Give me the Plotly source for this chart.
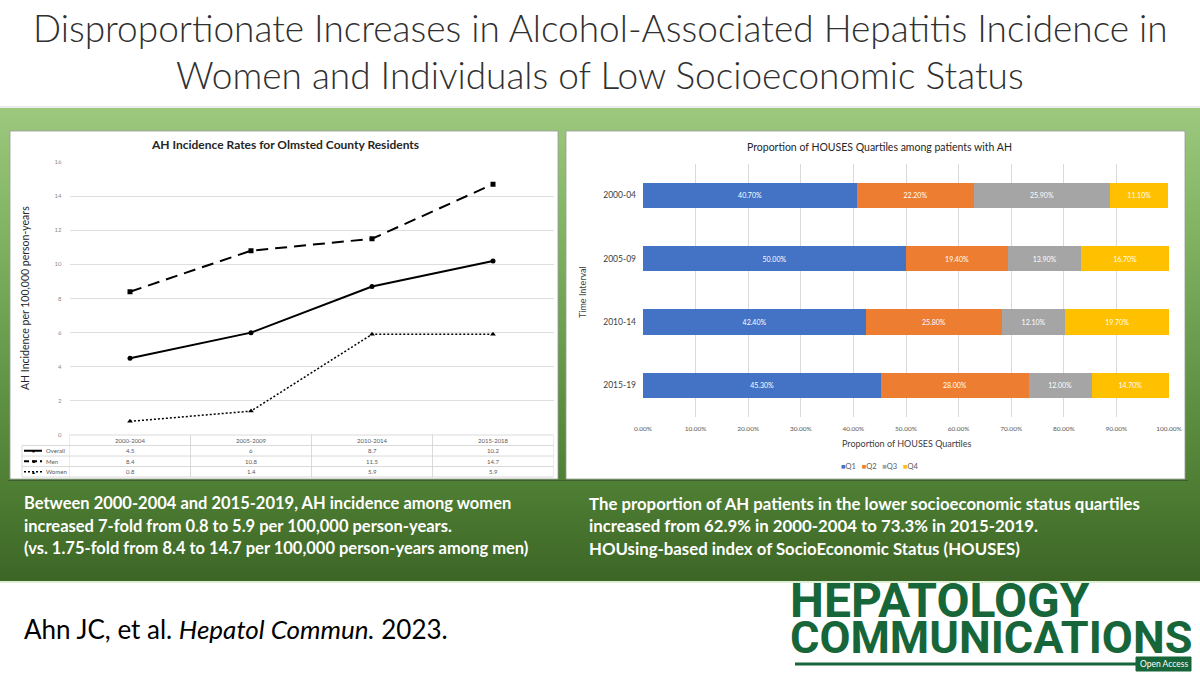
import base64
import plotly.graph_objects as go

W, H = 1200, 675


def fx(x):
    return x / W


def fy(y):
    return 1 - y / H


# ---------------- data ----------------
line_periods = ["2000-2004", "2005-2009", "2010-2014", "2015-2018"]
overall_rate = [4.5, 6, 8.7, 10.2]
men_rate = [8.4, 10.8, 11.5, 14.7]
women_rate = [0.8, 1.4, 5.9, 5.9]
y_ticks = [0, 2, 4, 6, 8, 10, 12, 14, 16]

intervals = ["2000-04", "2005-09", "2010-14", "2015-19"]
q1 = [0.407, 0.500, 0.424, 0.453]
q2 = [0.222, 0.194, 0.258, 0.280]
q3 = [0.259, 0.139, 0.121, 0.120]
q4 = [0.111, 0.167, 0.197, 0.147]
quartile_names = ["Q1", "Q2", "Q3", "Q4"]
quartile_colors = ["#4472C4", "#ED7D31", "#A5A5A5", "#FFC000"]

title_lines = [
    "Disproportionate Increases in Alcohol-Associated Hepatitis Incidence in",
    "Women and Individuals of Low Socioeconomic Status",
]
left_text = [
    "Between 2000-2004 and 2015-2019, AH incidence among women",
    "increased 7-fold from 0.8 to 5.9 per 100,000 person-years.",
    "(vs. 1.75-fold from 8.4 to 14.7 per 100,000 person-years among men)",
]
right_text = [
    "The proportion of AH patients in the lower socioeconomic status quartiles",
    "increased from 62.9% in 2000-2004 to 73.3% in 2015-2019.",
    "HOUsing-based index of SocioEconomic Status (HOUSES)",
]

FONT = "Lato, 'Open Sans', sans-serif"

fig = go.Figure()

# ---------------- left line chart ----------------
fig.add_trace(go.Scatter(
    x=line_periods, y=overall_rate, mode="lines+markers", name="Overall",
    line=dict(color="black", width=2),
    marker=dict(symbol="circle", size=5, color="black"),
    xaxis="x", yaxis="y", showlegend=False))
fig.add_trace(go.Scatter(
    x=line_periods, y=men_rate, mode="lines+markers", name="Men",
    line=dict(color="black", width=2, dash="12px,7px"),
    marker=dict(symbol="square", size=5, color="black"),
    xaxis="x", yaxis="y", showlegend=False))
fig.add_trace(go.Scatter(
    x=line_periods, y=women_rate, mode="lines+markers", name="Women",
    line=dict(color="black", width=1.5, dash="2px,2px"),
    marker=dict(symbol="triangle-up", size=5, color="black"),
    xaxis="x", yaxis="y", showlegend=False))

# ---------------- right stacked bar chart ----------------
for name, vals, col in zip(quartile_names, [q1, q2, q3, q4], quartile_colors):
    fig.add_trace(go.Bar(
        x=vals, y=intervals, orientation="h", name=name,
        marker=dict(color=col, line=dict(width=0)),
        texttemplate="%{x:.2%}", textposition="inside",
        insidetextanchor="middle",
        textfont=dict(color="white", size=7, family=FONT),
        xaxis="x2", yaxis="y2", showlegend=False))

# ---------------- background: gradient band as svg ----------------
svg = (
    '<svg xmlns="http://www.w3.org/2000/svg" width="10" height="100" preserveAspectRatio="none">'
    '<defs><linearGradient id="g" x1="0" y1="0" x2="0" y2="1">'
    '<stop offset="0" stop-color="#9CC87E"/>'
    '<stop offset="0.25" stop-color="#82B463"/>'
    '<stop offset="0.55" stop-color="#64974A"/>'
    '<stop offset="0.8" stop-color="#4E7E33"/>'
    '<stop offset="1" stop-color="#3C6526"/>'
    '</linearGradient></defs>'
    '<rect x="0" y="0" width="10" height="100" fill="url(#g)"/></svg>'
)
svg_uri = "data:image/svg+xml;base64," + base64.b64encode(svg.encode()).decode()

images = [dict(source=svg_uri, xref="paper", yref="paper", x=0, y=fy(108),
               sizex=1, sizey=(582 - 108) / H, xanchor="left", yanchor="top",
               sizing="stretch", layer="below")]

shapes = []
shapes.append(dict(type="line", xref="paper", yref="paper", x0=0, x1=1, y0=fy(107), y1=fy(107),
                   line=dict(color="#E6E6E6", width=1.5), layer="below"))
shapes.append(dict(type="line", xref="paper", yref="paper", x0=0, x1=1, y0=fy(582), y1=fy(582),
                   line=dict(color="#DCEFD2", width=2), layer="below"))
for (x0, y0, x1, y1) in [(10, 131, 558, 479), (566, 131, 1185, 479)]:
    shapes.append(dict(type="rect", xref="paper", yref="paper",
                       x0=fx(x0), x1=fx(x1), y0=fy(y1), y1=fy(y0),
                       fillcolor="white", line=dict(color="#9a9a9a", width=0.8), layer="below"))
shapes.append(dict(type="line", xref="paper", yref="paper", x0=fx(8), x1=fx(1188), y0=fy(480.5), y1=fy(480.5),
                   line=dict(color="#3E5E2E", width=1.2), layer="below"))

# data table under the line chart
row_y = [445.5, 456, 466.5, 477]
tbl_left = 22
for yy in [435] + row_y:
    x_start = fx(69.5) if yy == 435 else fx(tbl_left)
    shapes.append(dict(type="line", xref="paper", yref="paper", x0=x_start, x1=fx(553.5),
                       y0=fy(yy), y1=fy(yy), line=dict(color="#D0D0D0", width=0.8)))
shapes.append(dict(type="line", xref="paper", yref="paper", x0=fx(tbl_left), x1=fx(tbl_left),
                   y0=fy(477), y1=fy(445.5), line=dict(color="#D0D0D0", width=0.8)))
for k in range(len(line_periods) + 1):
    shapes.append(dict(type="line", xref="x", yref="paper", x0=k - 0.5, x1=k - 0.5,
                       y0=fy(477), y1=fy(435), line=dict(color="#D0D0D0", width=0.8)))

annotations = []


def ann(x, y, text, font, xanchor="center", yanchor="middle", xref="paper", **kw):
    annotations.append(dict(x=x, y=y, xref=xref, yref="paper", text=text, showarrow=False,
                            font=font, xanchor=xanchor, yanchor=yanchor, **kw))


small = dict(family=FONT, size=6, color="#595959")
for i, p in enumerate(line_periods):
    ann(i, fy(440), p, small, xref="x")
row_specs = [("Overall", overall_rate, "solid", 2, "●"),
             ("Men", men_rate, "5px,3px", 2, "■"),
             ("Women", women_rate, "2px,2px", 1.3, "▲")]
for r, (lab, vals, dash, lw, glyph) in enumerate(row_specs):
    yc = (row_y[r] + row_y[r + 1]) / 2
    for i, v in enumerate(vals):
        ann(i, fy(yc), f"{v:g}", small, xref="x")
    shapes.append(dict(type="line", xref="paper", yref="paper", x0=fx(24), x1=fx(42),
                       y0=fy(yc), y1=fy(yc), line=dict(color="black", width=lw, dash=dash)))
    ann(fx(33), fy(yc), glyph, dict(size=5, color="black"))
    ann(fx(44), fy(yc), lab, small, xanchor="left")

# chart titles
ann(fx(285), fy(145), "<b>AH Incidence Rates for Olmsted County Residents</b>",
    dict(family=FONT, size=12, color="#262626"))
ann(fx(25), fy(298), "AH Incidence per 100,000 person-years",
    dict(family=FONT, size=10.5, color="#262626"), textangle=-90)
ann(fx(880), fy(147), "Proportion of HOUSES Quartiles among patients with AH",
    dict(family=FONT, size=10.5, color="#262626"))
ann(fx(582), fy(292), "Time Interval", dict(family=FONT, size=9, color="#404040"), textangle=-90)
ann(fx(906), fy(443), "Proportion of HOUSES Quartiles", dict(family=FONT, size=9, color="#404040"))
legend_txt = "   ".join(f'<span style="color:{c}">■</span>{n}' for n, c in zip(quartile_names, quartile_colors))
ann(fx(880), fy(466), legend_txt, dict(family=FONT, size=7.5, color="#595959"))

# main title
for i, t in enumerate(title_lines):
    ann(0.5, fy(28 + 46 * i), t, dict(family=FONT, size=37, color="#303030", weight=300))

# summary texts
for i, t in enumerate(left_text):
    ann(fx(22), fy(503 + 22.5 * i), f"<b>{t}</b>", dict(family=FONT, size=16.5, color="white"),
        xanchor="left")
for i, t in enumerate(right_text):
    ann(fx(587), fy(503 + 22.5 * i), f"<b>{t}</b>", dict(family=FONT, size=16.8, color="white"),
        xanchor="left")

# citation
ann(fx(22), fy(629), "Ahn JC, et al. <i>Hepatol Commun.</i> 2023.",
    dict(family=FONT, size=26, color="black"), xanchor="left")

# journal logo
LOGO = "#16663A"
LOGO_FONT = "Roboto, 'Liberation Sans', sans-serif"
ann(fx(788), fy(600), "<b>HEPATOLOGY</b>", dict(family=LOGO_FONT, size=48, color=LOGO),
    xanchor="left", height=36)
ann(fx(788), fy(637), "<b>COMMUNICATIONS</b>", dict(family=LOGO_FONT, size=45, color=LOGO),
    xanchor="left", height=36)
shapes.append(dict(type="line", xref="paper", yref="paper", x0=fx(795), x1=fx(1138),
                   y0=fy(664), y1=fy(664), line=dict(color=LOGO, width=3)))
shapes.append(dict(type="rect", xref="paper", yref="paper", x0=fx(1136), x1=fx(1191),
                   y0=fy(671), y1=fy(657), fillcolor=LOGO, line=dict(color=LOGO, width=1)))
ann(fx(1163.5), fy(664), "Open Access", dict(family=FONT, size=8.5, color="white"))

fig.update_layout(
    width=W, height=H, margin=dict(l=0, r=0, t=0, b=0, autoexpand=False),
    paper_bgcolor="white", plot_bgcolor="rgba(0,0,0,0)",
    barmode="stack", bargap=0.6,
    font=dict(family=FONT),
    images=images, shapes=shapes, annotations=annotations,
    xaxis=dict(domain=[fx(69.5), fx(553.5)], range=[-0.5, 3.5], type="category", automargin=False,
               showticklabels=False, showgrid=False, zeroline=False, showline=False, ticks=""),
    yaxis=dict(domain=[fy(435), fy(162)], range=[0, 16], tickvals=y_ticks, automargin=False,
               showgrid=True, gridcolor="#DEDEDE", gridwidth=0.8, zeroline=False,
               tickfont=dict(family=FONT, size=6, color="#8c8c8c"), ticks="", ticklabelstandoff=7),
    xaxis2=dict(domain=[fx(643), fx(1169)], range=[0, 1], dtick=0.1, tickformat=".2%", automargin=False,
                anchor="y2", showgrid=True, gridcolor="#D9D9D9", gridwidth=0.8, zeroline=False,
                tickfont=dict(family=FONT, size=6.5, color="#595959"), ticks="", ticklabelstandoff=6),
    yaxis2=dict(domain=[fy(417), fy(163.5)], anchor="x2", type="category", automargin=False,
                categoryorder="array", categoryarray=intervals, range=[3.5, -0.5],
                showgrid=False, zeroline=False, ticks="",
                tickfont=dict(family=FONT, size=8.5, color="#404040"), ticklabelstandoff=6),
)

fig.write_html("out.html", config={"displayModeBar": False},
               post_script="document.body.style.margin='0';document.body.style.overflow='hidden';")
